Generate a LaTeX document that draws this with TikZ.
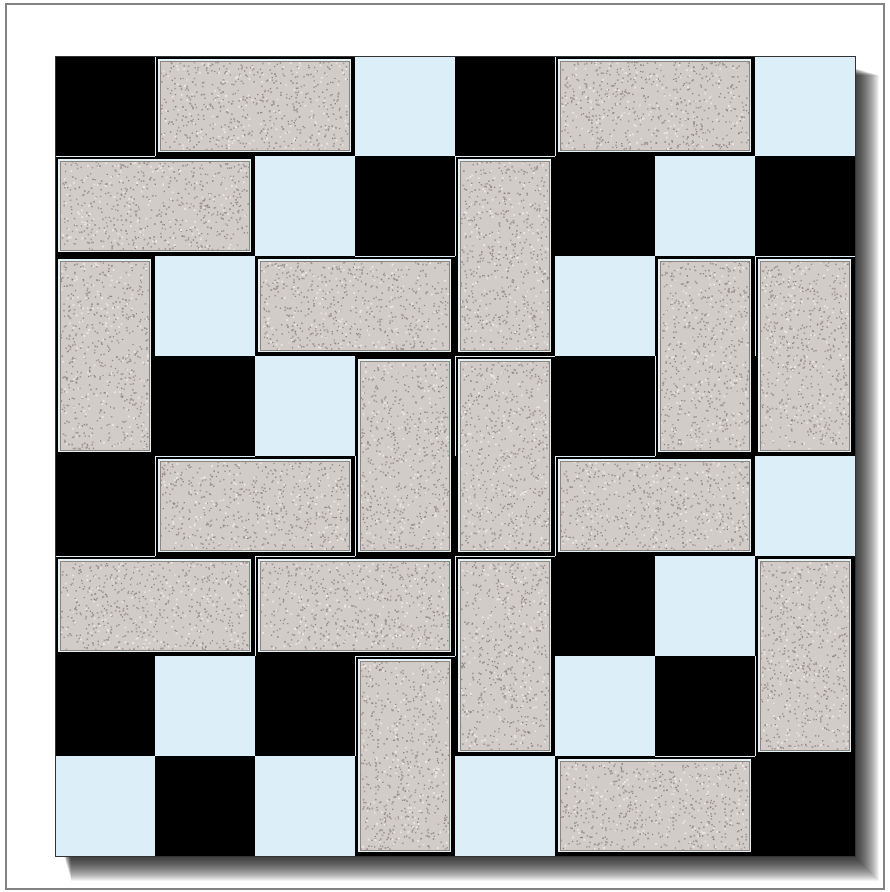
\documentclass[tikz,border=0pt]{standalone}
\usetikzlibrary{calc}
\definecolor{cellblue}{HTML}{DCEFF8}
\definecolor{granite}{HTML}{D2CCC9}
\definecolor{granitedark}{HTML}{A39B98}
\definecolor{granitedeep}{HTML}{8F8683}
\definecolor{granitelight}{HTML}{E8E4E2}
\definecolor{tileedge}{HTML}{E2F1F6}
\definecolor{tileline}{HTML}{8E8581}
\definecolor{framegray}{HTML}{838383}
\newcommand\mydomino[4]{%
  \pgfmathsetmacro\xa{55+100*#1}%
  \pgfmathsetmacro\ya{56+100*#2}%
  \pgfmathsetmacro\xb{55+100*(#3+1)}%
  \pgfmathsetmacro\yb{56+100*(#4+1)}%
  \pgfmathsetmacro\wd{\xb-\xa-12}%
  \pgfmathsetmacro\ht{\yb-\ya-12}%
  \fill[black] (\xa+1,\ya+1) rectangle (\xb,\yb);
  \fill[tileedge] (\xa+3,\ya+3) rectangle (\xb-4,\yb-4);
  \fill[granite] (\xa+5,\ya+5) rectangle (\xb-6,\yb-6);
  \fill[granitedark]
    \foreach \i in {1,...,380}{ ({\xa+5+rnd*\wd},{\ya+5+rnd*\ht}) rectangle ++(1.6,1.6) };
  \fill[granitedeep]
    \foreach \i in {1,...,160}{ ({\xa+5+rnd*\wd},{\ya+5+rnd*\ht}) rectangle ++(1.2,1.2) };
  \fill[granitelight]
    \foreach \i in {1,...,140}{ ({\xa+5+rnd*\wd},{\ya+5+rnd*\ht}) rectangle ++(1.8,1.8) };
  \draw[tileline, line width=0.7] (\xa+5,\ya+5) rectangle (\xb-6,\yb-6);
}
\begin{document}
\begin{tikzpicture}[x=0.03cm,y=-0.03cm]
\pgfmathsetseed{7}
\useasboundingbox (0,0) rectangle (889,892);
\fill[white] (0,0) rectangle (889,892);
\draw[framegray, line width=2] (6,4) rectangle (884,889);
% board drop shadow (soft)
\foreach \k in {1,...,24}{
  \fill[black,opacity=0.05] (64+\k*0.3,68+\k*0.3) rectangle (855+\k,857+\k);
}
% checkerboard
\foreach \r in {0,...,7}{
  \foreach \c in {0,...,7}{
    \pgfmathtruncatemacro\p{mod(\r+\c,2)}
    \ifnum\p=0
      \fill[black] (55+100*\c,56+100*\r) rectangle (155+100*\c,156+100*\r);
    \else
      \fill[cellblue] (55+100*\c,56+100*\r) rectangle (155+100*\c,156+100*\r);
    \fi
  }
}
% dominoes
\mydomino{1}{0}{2}{0}
\mydomino{5}{0}{6}{0}
\mydomino{0}{1}{1}{1}
\mydomino{4}{1}{4}{2}
\mydomino{0}{2}{0}{3}
\mydomino{2}{2}{3}{2}
\mydomino{6}{2}{6}{3}
\mydomino{7}{2}{7}{3}
\mydomino{3}{3}{3}{4}
\mydomino{4}{3}{4}{4}
\mydomino{1}{4}{2}{4}
\mydomino{5}{4}{6}{4}
\mydomino{0}{5}{1}{5}
\mydomino{2}{5}{3}{5}
\mydomino{4}{5}{4}{6}
\mydomino{7}{5}{7}{6}
\mydomino{3}{6}{3}{7}
\mydomino{5}{7}{6}{7}
\draw[black!80, line width=0.6] (55,56) rectangle (855,856);
\end{tikzpicture}
\end{document}
